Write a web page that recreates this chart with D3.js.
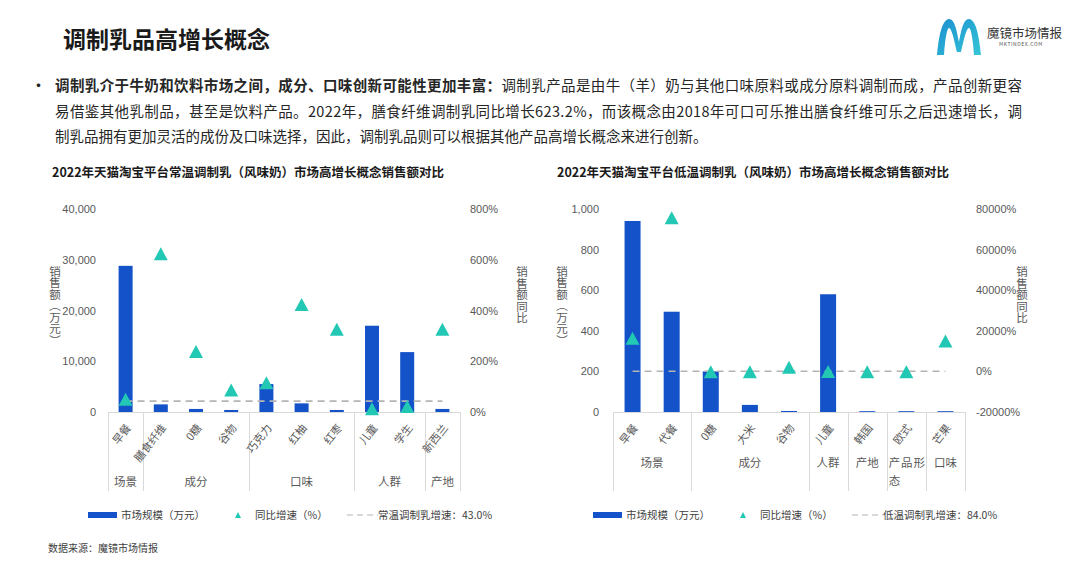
<!DOCTYPE html>
<html>
<head>
<meta charset="utf-8">
<script src="https://cdn.jsdelivr.net/npm/d3@7"></script>
<style>
  body { margin: 0; background: #fff; }
  svg { display: block; font-family: "Noto Sans CJK SC", "Noto Sans", sans-serif; }
  .tick-label { font-size: 11px; fill: #595959; }
  .cat-label { font-size: 11px; fill: #595959; }
  .legend-text { font-size: 10.5px; fill: #404040; }
</style>
</head>
<body>
<svg id="page" width="1080" height="566"></svg>
<script>
// ---- data ----
const leftCategories = ['早餐', '膳食纤维', '0糖', '谷物', '巧克力', '红柚', '红枣', '儿童', '学生', '新西兰'];
const leftGroupNames = ['场景', '成分', '口味', '人群', '产地'];
const leftGroupSizes = [1, 3, 3, 2, 1];
const leftSales = [28800, 1500, 600, 400, 5500, 1700, 400, 17000, 11800, 600];
const leftGrowth = [50, 623.2, 238, 87, 115, 424, 326, 13, 22, 326];
const leftAvgGrowth = 43.0;
const leftSalesTicks = [0, 10000, 20000, 30000, 40000];
const leftGrowthTicks = [0, 200, 400, 600, 800];

const rightCategories = ['早餐', '代餐', '0糖', '大米', '谷物', '儿童', '韩国', '欧式', '芒果'];
const rightGroupNames = ['场景', '成分', '人群', '产地', '产品形态', '口味'];
const rightGroupSizes = [2, 3, 1, 1, 1, 1];
const rightSales = [941, 494, 200, 35, 5, 580, 4, 4, 4];
const rightGrowth = [16300, 75700, -200, -200, 2000, -100, -200, -200, 15000];
const rightAvgGrowth = 84.0;
const rightSalesTicks = [0, 200, 400, 600, 800, 1000];
const rightGrowthTicks = [-20000, 0, 20000, 40000, 60000, 80000];

const BLUE = '#1352C9';
const TEAL = '#22C8B4';
const DASH = '#B4B4B4';
const GRID = '#D9D9D9';

const svg = d3.select('#page');

// ---- header ----
svg.append('text').attr('x', 63).attr('y', 48)
    .style('font-size', '23px').style('font-weight', 'bold').style('fill', '#1a1a1a')
    .text('调制乳品高增长概念');

// logo
const defs = svg.append('defs');
const grad = defs.append('linearGradient').attr('id', 'logoGrad')
    .attr('x1', '0').attr('y1', '0').attr('x2', '1').attr('y2', '1');
grad.append('stop').attr('offset', '0%').attr('stop-color', '#1b8fd0');
grad.append('stop').attr('offset', '100%').attr('stop-color', '#35c6d6');
svg.append('path')
    .attr('d', 'M937,55 C939,35 942,20 949,19 C955,19 957,32 959,42 C961,32 963,19 969,19 C976,20 979,35 981,55 L974,55 C973,40 971,28 969,28 C966,28 963,44 961,52 L957,52 C955,44 952,28 949,28 C947,28 945,40 944,55 Z')
    .attr('fill', 'url(#logoGrad)');
svg.append('text').attr('x', 987).attr('y', 38)
    .style('font-size', '12.5px').style('fill', '#333').text('魔镜市场情报');
svg.append('text').attr('x', 999).attr('y', 46)
    .style('font-size', '5px').style('fill', '#555').style('letter-spacing', '0.6px').text('MKTINDEX.COM');

// bullet paragraph
svg.append('text').attr('x', 30).attr('y', 92).style('font-size', '17px').style('fill', '#222').text('•');
const line1 = svg.append('text').attr('x', 55).attr('y', 91)
    .style('font-size', '14.5px').style('fill', '#262626')
    .attr('textLength', 967).attr('lengthAdjust', 'spacing');
line1.append('tspan').style('font-weight', 'bold').text('调制乳介于牛奶和饮料市场之间，成分、口味创新可能性更加丰富：');
line1.append('tspan').text('调制乳产品是由牛（羊）奶与其他口味原料或成分原料调制而成，产品创新更容');
svg.append('text').attr('x', 55).attr('y', 117)
    .style('font-size', '14.5px').style('fill', '#262626')
    .attr('textLength', 967).attr('lengthAdjust', 'spacing')
    .text('易借鉴其他乳制品，甚至是饮料产品。2022年，膳食纤维调制乳同比增长623.2%，而该概念由2018年可口可乐推出膳食纤维可乐之后迅速增长，调');
svg.append('text').attr('x', 55).attr('y', 142)
    .style('font-size', '14.5px').style('fill', '#262626')
    .text('制乳品拥有更加灵活的成份及口味选择，因此，调制乳品则可以根据其他产品高增长概念来进行创新。');

// source
svg.append('text').attr('x', 48).attr('y', 552)
    .style('font-size', '10px').style('fill', '#404040').text('数据来源：魔镜市场情报');

function triPath(x, y, w, h) {
    return `M${x},${y - h / 2}L${x + w / 2},${y + h / 2}L${x - w / 2},${y + h / 2}Z`;
}

function drawChart(cfg) {
    const g = svg.append('g');

    g.append('text').attr('x', cfg.titleX).attr('y', 177)
        .style('font-size', '12.5px').style('font-weight', 'bold').style('fill', '#1a1a1a')
        .text(cfg.title);

    const x = d3.scaleBand().domain(cfg.categories).range([cfg.x0, cfg.x1]).paddingInner(0).paddingOuter(0);
    const y = d3.scaleLinear().domain(d3.extent(cfg.salesTicks)).range([412, 209]);
    const y2 = d3.scaleLinear().domain(d3.extent(cfg.growthTicks)).range([412, 209]);

    // left axis
    const leftAxis = d3.axisLeft(y).tickValues(cfg.salesTicks).tickSize(0).tickPadding(0)
        .tickFormat(d3.format(','));
    const la = g.append('g').attr('transform', `translate(${cfg.x0 - cfg.leftPad},0)`).call(leftAxis);
    la.select('.domain').remove();
    la.selectAll('text').attr('class', 'tick-label').attr('fill', null);

    const rightAxis = d3.axisRight(y2).tickValues(cfg.growthTicks).tickSize(0).tickPadding(0)
        .tickFormat(d => d + '%');
    const ra = g.append('g').attr('transform', `translate(${cfg.x1 + cfg.rightPad},0)`).call(rightAxis);
    ra.select('.domain').remove();
    ra.selectAll('text').attr('class', 'tick-label').attr('fill', null);

    // axis titles (vertical)
    g.append('text').attr('x', cfg.leftTitleX).attr('y', 306)
        .style('writing-mode', 'vertical-rl').style('text-anchor', 'middle')
        .style('font-size', '11.5px').style('fill', '#595959')
        .text('销售额（万元）');
    g.append('text').attr('x', cfg.rightTitleX).attr('y', 295)
        .style('writing-mode', 'vertical-rl').style('text-anchor', 'middle')
        .style('font-size', '11.5px').style('fill', '#595959')
        .text('销售额同比');

    // bars
    g.selectAll('rect.bar').data(cfg.sales).join('rect').attr('class', 'bar')
        .attr('x', (d, i) => x(cfg.categories[i]) + (x.bandwidth() - cfg.barW) / 2)
        .attr('width', cfg.barW)
        .attr('y', d => y(d))
        .attr('height', d => Math.max(412 - y(d), 1))
        .attr('fill', BLUE);

    // category axis baseline and group separators
    g.append('line').attr('x1', cfg.x0).attr('x2', cfg.x1).attr('y1', 412.5).attr('y2', 412.5)
        .attr('stroke', GRID).attr('stroke-width', 1);
    let idx = 0;
    const bounds = [0];
    cfg.groupSizes.forEach(n => { idx += n; bounds.push(idx); });
    bounds.forEach(b => {
        const bx = b < cfg.categories.length ? x(cfg.categories[b]) : cfg.x1;
        g.append('line').attr('x1', Math.round(bx) + 0.5).attr('x2', Math.round(bx) + 0.5)
            .attr('y1', 412).attr('y2', 491).attr('stroke', GRID).attr('stroke-width', 1);
    });

    // category labels
    g.selectAll('text.cat').data(cfg.categories).join('text').attr('class', 'cat-label')
        .attr('text-anchor', 'end')
        .attr('transform', d => `translate(${x(d) + x.bandwidth() / 2 + 6},${cfg.catY}) rotate(-52)`)
        .text(d => d);

    // group labels
    cfg.groupNames.forEach((name, i) => {
        const a = bounds[i], b = bounds[i + 1];
        const gx0 = x(cfg.categories[a]);
        const gx1 = b < cfg.categories.length ? x(cfg.categories[b]) : cfg.x1;
        if (name === '产品形态') {
            const t = g.append('text').attr('class', 'cat-label').style('font-size', '11.5px');
            t.append('tspan').attr('x', gx0 + 2).attr('y', cfg.groupY)
                .attr('textLength', gx1 - gx0 - 3).attr('lengthAdjust', 'spacing').text('产 品 形');
            t.append('tspan').attr('x', gx0 + 2).attr('y', cfg.groupY + 18).text('态');
        } else {
            g.append('text').attr('class', 'cat-label').style('font-size', '11.5px')
                .attr('x', (gx0 + gx1) / 2).attr('y', cfg.groupY).attr('text-anchor', 'middle')
                .text(name);
        }
    });

    // average growth dashed line
    const first = cfg.categories[0], last = cfg.categories[cfg.categories.length - 1];
    g.append('line')
        .attr('x1', x(first) + x.bandwidth() / 2).attr('x2', x(last) + x.bandwidth() / 2)
        .attr('y1', y2(cfg.avg)).attr('y2', y2(cfg.avg))
        .attr('stroke', DASH).attr('stroke-width', 1.6).attr('stroke-dasharray', '7,5');

    // growth triangles
    g.selectAll('path.tri').data(cfg.growth).join('path').attr('class', 'tri')
        .attr('d', (d, i) => triPath(x(cfg.categories[i]) + x.bandwidth() / 2, y2(d), 14, 13))
        .attr('fill', TEAL);

    // legend
    const lx = cfg.legendX;
    g.append('rect').attr('x', lx).attr('y', 512).attr('width', 29).attr('height', 6).attr('fill', BLUE);
    g.append('text').attr('class', 'legend-text').attr('x', lx + 33).attr('y', 519).text('市场规模（万元）');
    g.append('path').attr('d', triPath(lx + 150, 515, 6, 6)).attr('fill', TEAL);
    g.append('text').attr('class', 'legend-text').attr('x', lx + 167).attr('y', 519).text('同比增速（%）');
    g.append('line').attr('x1', lx + 259).attr('x2', lx + 290).attr('y1', 515).attr('y2', 515)
        .attr('stroke', DASH).attr('stroke-width', 1.2).attr('stroke-dasharray', '6,4');
    g.append('text').attr('class', 'legend-text').attr('x', lx + 290).attr('y', 519)
        .text(cfg.avgLabel + '：' + cfg.avg.toFixed(1) + '%');
}

drawChart({
    title: '2022年天猫淘宝平台常温调制乳（风味奶）市场高增长概念销售额对比',
    titleX: 52,
    categories: leftCategories, groupNames: leftGroupNames, groupSizes: leftGroupSizes,
    sales: leftSales, growth: leftGrowth, avg: leftAvgGrowth,
    salesTicks: leftSalesTicks, growthTicks: leftGrowthTicks,
    x0: 108, x1: 460, barW: 14, leftPad: 12, rightPad: 10,
    leftTitleX: 55, rightTitleX: 522,
    catY: 428, groupY: 486,
    legendX: 88, avgLabel: '常温调制乳增速'
});

drawChart({
    title: '2022年天猫淘宝平台低温调制乳（风味奶）市场高增长概念销售额对比',
    titleX: 557,
    categories: rightCategories, groupNames: rightGroupNames, groupSizes: rightGroupSizes,
    sales: rightSales, growth: rightGrowth, avg: rightAvgGrowth,
    salesTicks: rightSalesTicks, growthTicks: rightGrowthTicks,
    x0: 613, x1: 965, barW: 16, leftPad: 14, rightPad: 11,
    leftTitleX: 562, rightTitleX: 1022,
    catY: 428, groupY: 467,
    legendX: 593, avgLabel: '低温调制乳增速'
});
</script>
</body>
</html>
